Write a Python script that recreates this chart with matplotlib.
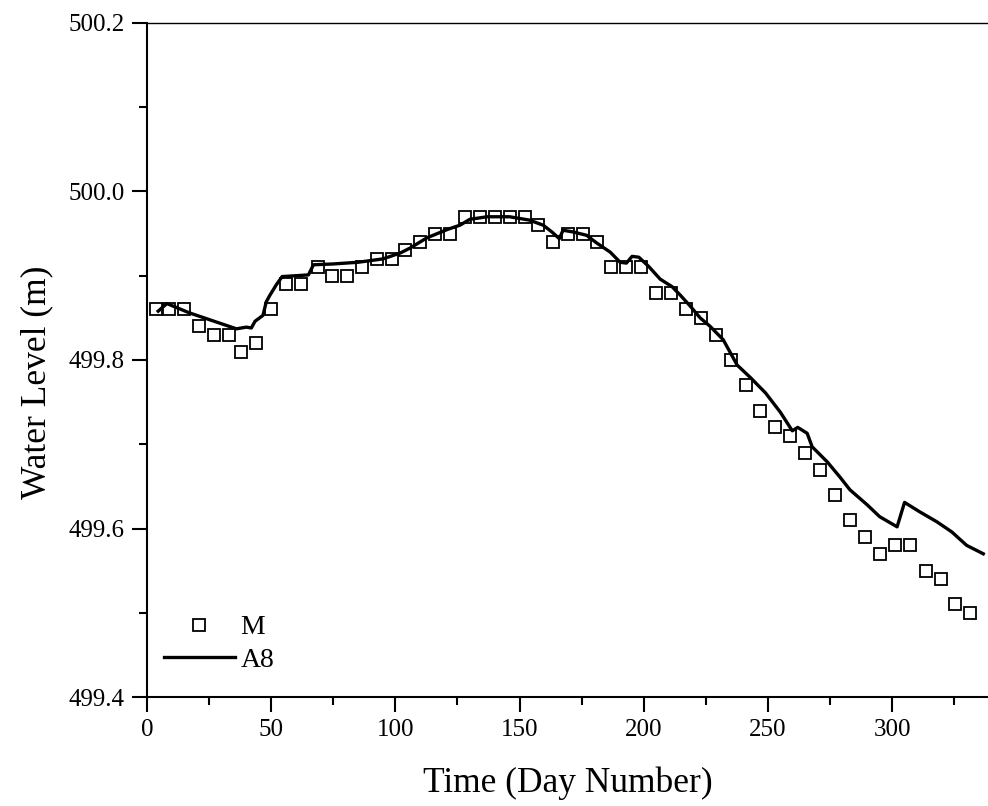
import numpy as np
import matplotlib
matplotlib.use('Agg')
import matplotlib.pyplot as plt
from matplotlib.ticker import MultipleLocator, FormatStrFormatter

plt.rcParams['font.family'] = ['Liberation Serif', 'DejaVu Serif']

# measured water level (squares)
m_day = [3.6, 9, 15, 21, 27, 33, 38, 44, 50, 56, 62, 69, 74.5, 80.5, 86.5,
         92.5, 98.5, 104, 110, 116, 122, 128, 134, 140, 146, 152, 157.5,
         163.5, 169.5, 175.5, 181, 187, 193, 199, 205, 211, 217, 223, 229,
         235, 241, 247, 253, 259, 265, 271, 277, 283, 289, 295, 301, 307,
         313.5, 319.5, 325.5, 331.5]
m_level = [499.86, 499.86, 499.86, 499.84, 499.83, 499.83, 499.81, 499.82,
           499.86, 499.89, 499.89, 499.91, 499.90, 499.90, 499.91, 499.92,
           499.92, 499.93, 499.94, 499.95, 499.95, 499.97, 499.97, 499.97,
           499.97, 499.97, 499.96, 499.94, 499.95, 499.95, 499.94, 499.91,
           499.91, 499.91, 499.88, 499.88, 499.86, 499.85, 499.83, 499.80,
           499.77, 499.74, 499.72, 499.71, 499.69, 499.67, 499.64, 499.61,
           499.59, 499.57, 499.58, 499.58, 499.55, 499.54, 499.51, 499.50]

# simulated A8 (line)
a8_day = [4.5, 8, 17, 28, 36, 40, 42, 43.5, 46.7, 48, 49.5, 52, 54.4, 65, 67,
          75, 85, 95, 102, 106, 112.7, 121, 126, 130, 137, 146, 154, 159.5,
          163, 166, 167.5, 171.5, 177, 181, 186.5, 190.5, 193, 195.3, 198,
          202, 206.6, 211.4, 214.7, 218.7, 222.7, 226.7, 232, 237.6, 243,
          249, 255, 259.8, 262, 265.8, 267.8, 273.9, 279, 283, 290, 295, 302,
          305, 311, 318, 324, 330, 336.7]
a8_level = [499.858, 499.867, 499.856, 499.845, 499.837, 499.839, 499.838,
            499.846, 499.853, 499.869, 499.877, 499.889, 499.899, 499.901,
            499.913, 499.914, 499.916, 499.920, 499.927, 499.933, 499.945,
            499.955, 499.960, 499.967, 499.970, 499.970, 499.966, 499.960,
            499.952, 499.944, 499.954, 499.952, 499.948, 499.939, 499.928,
            499.916, 499.915, 499.923, 499.922, 499.911, 499.896, 499.887,
            499.877, 499.864, 499.850, 499.840, 499.824, 499.794, 499.779,
            499.761, 499.738, 499.716, 499.720, 499.713, 499.697, 499.679,
            499.661, 499.646, 499.628, 499.614, 499.602, 499.631, 499.620,
            499.608, 499.596, 499.580, 499.570]

fig = plt.figure(figsize=(9.88, 8.06), dpi=100)
ax = fig.add_axes([0.1488, 0.1352, 0.8512, 0.8363])

ax.plot(m_day, m_level, linestyle='none', marker='s', markersize=9.3,
        markerfacecolor='none', markeredgecolor='black', markeredgewidth=1.3,
        label='M')
ax.plot(a8_day, a8_level, color='black', linewidth=2.4, label='A8')

ax.set_xlim(0, 338.6)
ax.set_ylim(499.4, 500.2)

ax.xaxis.set_major_locator(MultipleLocator(50))
ax.xaxis.set_minor_locator(MultipleLocator(25))
ax.yaxis.set_major_locator(MultipleLocator(0.2))
ax.yaxis.set_minor_locator(MultipleLocator(0.1))
ax.yaxis.set_major_formatter(FormatStrFormatter('%.1f'))

ax.tick_params(which='major', direction='out', length=11, width=1.5,
               labelsize=18, pad=5, top=False, right=False)
ax.tick_params(which='minor', direction='out', length=5.8, width=1.5,
               top=False, right=False)

ax.spines['right'].set_visible(False)
ax.spines['left'].set_linewidth(1.5)
ax.spines['bottom'].set_linewidth(1.5)
ax.spines['top'].set_linewidth(1.0)

ax.set_xlabel('Time (Day Number)', fontsize=25.5, labelpad=18)
ax.set_ylabel('Water Level (m)', fontsize=25.5)
ax.yaxis.set_label_coords(-0.112, 0.467)

ax.legend(loc='lower left', bbox_to_anchor=(0.02, 0.036), frameon=False,
          fontsize=20, handlelength=2.56, handletextpad=0.2,
          labelspacing=0.25, borderpad=0, borderaxespad=0)

fig.savefig('out.png', dpi=100)
